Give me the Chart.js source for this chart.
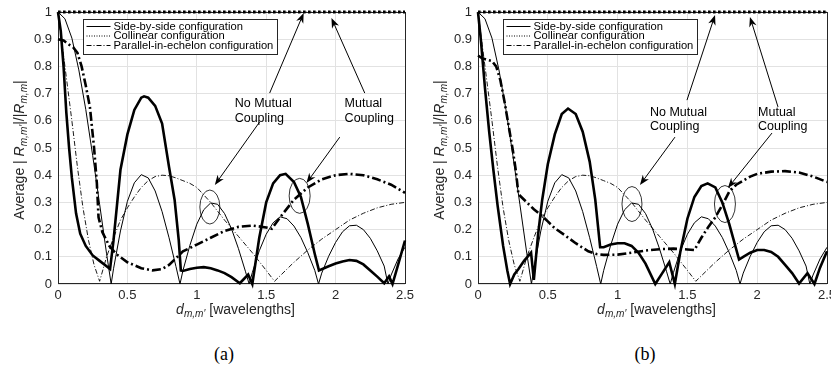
<!DOCTYPE html>
<html>
<head>
<meta charset="utf-8">
<script src="https://cdn.jsdelivr.net/npm/chart.js@4.4.1/dist/chart.umd.min.js"></script>
<style>
  body { margin: 0; background: #fff; width: 831px; height: 371px; overflow: hidden; position: relative; }
  canvas { position: absolute; top: 0; }
  #ca { left: 0; }
  #cb { left: 420px; }
  .cap { position: absolute; top: 344px; width: 60px; text-align: center; font: 18px "Liberation Serif", "Times New Roman", serif; }
</style>
</head>
<body>
<canvas id="ca" width="415" height="330"></canvas>
<canvas id="cb" width="411" height="330"></canvas>
<div class="cap" style="left:194px">(a)</div>
<div class="cap" style="left:615px">(b)</div>
<script>
const FONT = '"Liberation Sans", Arial, sans-serif';

const seriesNames = ['Side-by-side configuration', 'Collinear configuration', 'Parallel-in-echelon configuration'];
const xTicks = [0, 0.5, 1, 1.5, 2, 2.5];
const yTicks = [0, 0.1, 0.2, 0.3, 0.4, 0.5, 0.6, 0.7, 0.8, 0.9, 1];

// side-by-side, no mutual coupling (same in both panels)
const sideX = [0, 0.05, 0.1, 0.15, 0.2, 0.25, 0.3, 0.35, 0.383, 0.4, 0.45, 0.5, 0.55, 0.6, 0.65, 0.7, 0.75, 0.8, 0.85, 0.879,
  0.9, 0.95, 1.0, 1.05, 1.1, 1.15, 1.2, 1.25, 1.3, 1.35, 1.377, 1.4, 1.45, 1.5, 1.55, 1.6, 1.65, 1.7, 1.75, 1.8, 1.85, 1.877,
  1.9, 1.95, 2.0, 2.05, 2.1, 2.15, 2.2, 2.25, 2.3, 2.35, 2.377, 2.4, 2.45, 2.5];
const sideY = [1, 0.975, 0.904, 0.787, 0.642, 0.472, 0.293, 0.111, 0, 0.056, 0.195, 0.304, 0.372, 0.402, 0.390, 0.342, 0.266, 0.170, 0.064, 0,
  0.049, 0.142, 0.220, 0.273, 0.298, 0.293, 0.259, 0.203, 0.130, 0.047, 0, 0.042, 0.122, 0.183, 0.225, 0.247, 0.240, 0.213, 0.171, 0.115, 0.050, 0,
  0.040, 0.102, 0.153, 0.192, 0.214, 0.216, 0.200, 0.168, 0.122, 0.066, 0, 0.033, 0.092, 0.135];

// parallel-in-echelon, no mutual coupling (same in both panels)
const echX = [0, 0.03, 0.06, 0.1, 0.14, 0.18, 0.22, 0.26, 0.3, 0.35, 0.4, 0.45, 0.5, 0.55, 0.6, 0.65, 0.7, 0.75, 0.8, 0.85,
  0.9, 0.95, 1.0, 1.1, 1.2, 1.3, 1.4, 1.5, 1.56, 1.6, 1.7, 1.8, 1.9, 2.0, 2.1, 2.2, 2.3, 2.4, 2.5];
const echY = [1, 0.88, 0.76, 0.6, 0.43, 0.28, 0.16, 0.07, 0.01, 0.10, 0.17, 0.235, 0.28, 0.32, 0.355, 0.38, 0.395, 0.40, 0.398, 0.39,
  0.38, 0.37, 0.355, 0.30, 0.235, 0.175, 0.115, 0.05, 0.01, 0.03, 0.08, 0.125, 0.165, 0.20, 0.235, 0.26, 0.28, 0.293, 0.30];

// collinear, with and without coupling
const collX = [0, 2.5];
const collY = [1, 1];

// panel (a), with mutual coupling
const sideMcAX = [0, 0.02, 0.04, 0.06, 0.08, 0.1, 0.13, 0.16, 0.2, 0.25, 0.3, 0.35, 0.375, 0.4, 0.425, 0.45, 0.5, 0.55, 0.6, 0.62,
  0.65, 0.7, 0.75, 0.8, 0.84, 0.87, 0.885, 0.9, 0.95, 1.0, 1.05, 1.1, 1.15, 1.2, 1.25, 1.31, 1.37, 1.4, 1.45, 1.5,
  1.55, 1.6, 1.64, 1.7, 1.75, 1.8, 1.85, 1.88, 1.95, 2.0, 2.05, 2.1, 2.15, 2.2, 2.25, 2.3, 2.35, 2.385, 2.41, 2.45, 2.5];
const sideMcAY = [1, 0.93, 0.80, 0.63, 0.50, 0.39, 0.26, 0.185, 0.14, 0.105, 0.085, 0.065, 0.055, 0.16, 0.29, 0.42, 0.55, 0.64, 0.685, 0.69,
  0.685, 0.655, 0.59, 0.43, 0.31, 0.16, 0.05, 0.048, 0.055, 0.06, 0.062, 0.058, 0.05, 0.04, 0.025, 0.003, 0.035, 0.0, 0.17, 0.30,
  0.37, 0.40, 0.405, 0.375, 0.32, 0.22, 0.11, 0.05, 0.065, 0.075, 0.083, 0.088, 0.085, 0.072, 0.05, 0.027, 0.003, 0.028, 0.0, 0.07, 0.16];
const echMcAX = [0, 0.04, 0.08, 0.11, 0.14, 0.17, 0.2, 0.23, 0.26, 0.28, 0.292, 0.32, 0.37, 0.42, 0.5, 0.6, 0.68, 0.75, 0.8, 0.85,
  0.9, 1.0, 1.1, 1.2, 1.3, 1.4, 1.5, 1.54, 1.6, 1.7, 1.8, 1.9, 2.0, 2.1, 2.2, 2.3, 2.4, 2.5];
const echMcAY = [0.90, 0.895, 0.88, 0.87, 0.85, 0.80, 0.73, 0.65, 0.50, 0.37, 0.245, 0.19, 0.14, 0.11, 0.08, 0.058, 0.05, 0.055, 0.07, 0.095,
  0.12, 0.145, 0.17, 0.195, 0.21, 0.215, 0.208, 0.203, 0.245, 0.31, 0.355, 0.385, 0.40, 0.405, 0.40, 0.385, 0.365, 0.335];

// panel (b), with mutual coupling
const sideMcBX = [0, 0.02, 0.05, 0.08, 0.11, 0.14, 0.18, 0.21, 0.23, 0.26, 0.29, 0.33, 0.38, 0.40, 0.43, 0.46, 0.5, 0.55, 0.6, 0.645,
  0.7, 0.75, 0.8, 0.84, 0.86, 0.875, 0.9, 0.95, 1.0, 1.05, 1.1, 1.15, 1.2, 1.27, 1.32, 1.37, 1.41, 1.45, 1.5, 1.55,
  1.6, 1.645, 1.7, 1.75, 1.8, 1.87, 1.9, 1.95, 2.0, 2.05, 2.1, 2.15, 2.2, 2.25, 2.3, 2.36, 2.41, 2.45, 2.5];
const sideMcBY = [1, 0.9, 0.72, 0.56, 0.42, 0.29, 0.14, 0.05, 0.0, 0.035, 0.055, 0.085, 0.115, 0.015, 0.18, 0.31, 0.44, 0.55, 0.625, 0.645,
  0.625, 0.56, 0.45, 0.31, 0.21, 0.135, 0.135, 0.145, 0.15, 0.15, 0.14, 0.115, 0.075, 0.0, 0.04, 0.08, 0.0, 0.12, 0.24, 0.32,
  0.36, 0.37, 0.355, 0.30, 0.22, 0.09, 0.10, 0.115, 0.125, 0.125, 0.118, 0.10, 0.07, 0.04, 0.002, 0.04, 0.0, 0.06, 0.12];
const echMcBX = [0, 0.03, 0.06, 0.1, 0.13, 0.16, 0.19, 0.22, 0.25, 0.27, 0.29, 0.35, 0.4, 0.46, 0.5, 0.55, 0.62, 0.7, 0.79, 0.85,
  0.9, 1.0, 1.1, 1.2, 1.3, 1.4, 1.5, 1.55, 1.6, 1.65, 1.7, 1.75, 1.8, 1.85, 1.9, 1.95, 2.0, 2.1, 2.2, 2.3, 2.4, 2.5];
const echMcBY = [0.84, 0.83, 0.825, 0.82, 0.80, 0.75, 0.67, 0.58, 0.49, 0.42, 0.33, 0.30, 0.275, 0.25, 0.23, 0.205, 0.18, 0.15, 0.12, 0.11,
  0.107, 0.108, 0.115, 0.123, 0.128, 0.13, 0.127, 0.125, 0.17, 0.21, 0.245, 0.29, 0.34, 0.365, 0.38, 0.395, 0.405, 0.413, 0.415, 0.41, 0.395, 0.375];

// annotations, in data units
const notesA = {
  labels: [[1.273, 0.662, 'No Mutual'], [1.273, 0.61, 'Coupling'], [2.065, 0.662, 'Mutual'], [2.065, 0.61, 'Coupling']],
  arrows: [[1.525, 0.702, 1.77, 0.996], [1.453, 0.596, 1.13, 0.364], [2.21, 0.702, 1.97, 0.978], [2.03, 0.54, 1.79, 0.371]],
  rings: [[1.094, 0.283, 10, 17], [1.741, 0.324, 10.5, 17.5]]
};
const notesB = {
  labels: [[1.232, 0.629, 'No Mutual'], [1.232, 0.58, 'Coupling'], [2.006, 0.629, 'Mutual'], [2.006, 0.58, 'Coupling']],
  arrows: [[1.497, 0.676, 1.698, 0.989], [1.411, 0.54, 1.16, 0.364], [2.149, 0.651, 1.948, 0.982], [2.106, 0.555, 1.79, 0.353]],
  rings: [[1.103, 0.294, 10, 17.5], [1.769, 0.294, 10.5, 18.5]]
};

const pts = (xs, ys) => xs.map((x, i) => ({ x: x, y: ys[i] }));

const DOT = [1, 1.5], DASHDOT = [5, 2, 1, 2];

function line(data, width, dash) {
  return { data: data, borderColor: '#000', borderWidth: width, borderDash: dash, pointRadius: 0, tension: 0, fill: false, clip: 6 };
}

function makeDatasets(mcSideX, mcSideY, mcEchX, mcEchY) {
  return [
    line(pts(sideX, sideY), 1, []),
    line(pts(mcSideX, mcSideY), 2.6, []),
    line(pts(collX, collY), 1, DOT),
    line(pts(collX, collY), 2.8, [2.6, 2.4]),
    line(pts(echX, echY), 0.9, DASHDOT),
    line(pts(mcEchX, mcEchY), 2.6, [9, 3, 2, 3])
  ];
}

function richText(ctx, parts, x, y, size) {
  const fontOf = p => (p[1] === 'n' ? '' : 'italic ') + (p[1] === 's' ? size * 0.72 : size) + 'px ' + FONT;
  const widths = parts.map(p => { ctx.font = fontOf(p); return ctx.measureText(p[0]).width; });
  let cx = x - widths.reduce((a, b) => a + b, 0) / 2;
  parts.forEach((p, i) => {
    ctx.font = fontOf(p);
    ctx.fillText(p[0], cx, y + (p[1] === 's' ? size * 0.32 : 0));
    cx += widths[i];
  });
}

function arrow(ctx, x0, y0, x1, y1) {
  const a = Math.atan2(y1 - y0, x1 - x0);
  const L = 10, W = 3.8;
  ctx.beginPath();
  ctx.moveTo(x0, y0);
  ctx.lineTo(x1 - Math.cos(a) * 6, y1 - Math.sin(a) * 6);
  ctx.stroke();
  ctx.beginPath();
  ctx.moveTo(x1, y1);
  ctx.lineTo(x1 - L * Math.cos(a) + W * Math.sin(a), y1 - L * Math.sin(a) - W * Math.cos(a));
  ctx.lineTo(x1 - 7 * Math.cos(a), y1 - 7 * Math.sin(a));
  ctx.lineTo(x1 - L * Math.cos(a) - W * Math.sin(a), y1 - L * Math.sin(a) + W * Math.cos(a));
  ctx.closePath();
  ctx.fill();
}

const decor = {
  id: 'decor',
  beforeDatasetsDraw(chart) {
    // axes box, under the curves
    const ctx = chart.ctx, a = chart.chartArea;
    ctx.save();
    ctx.strokeStyle = '#262626';
    ctx.lineWidth = 1;
    ctx.strokeRect(Math.round(a.left) + 0.5, Math.round(a.top) + 0.5, Math.round(a.right - a.left), Math.round(a.bottom - a.top) - 1);
    ctx.restore();
  },
  afterDatasetsDraw(chart, args, opts) {
    const ctx = chart.ctx, a = chart.chartArea;
    const sx = chart.scales.x, sy = chart.scales.y;
    const notes = opts.notes;
    ctx.save();
    ctx.strokeStyle = '#000';
    ctx.fillStyle = '#000';
    ctx.lineWidth = 0.8;
    notes.rings.forEach(r => {
      ctx.beginPath();
      ctx.ellipse(sx.getPixelForValue(r[0]), sy.getPixelForValue(r[1]), r[2], r[3], 0, 0, Math.PI * 2);
      ctx.stroke();
    });
    ctx.lineWidth = 1;
    notes.arrows.forEach(r => arrow(ctx, sx.getPixelForValue(r[0]), sy.getPixelForValue(r[1]),
      sx.getPixelForValue(r[2]), sy.getPixelForValue(r[3])));
    ctx.font = '12.5px ' + FONT;
    ctx.textAlign = 'left';
    ctx.textBaseline = 'middle';
    notes.labels.forEach(l => ctx.fillText(l[2], sx.getPixelForValue(l[0]), sy.getPixelForValue(l[1])));

    // legend
    const lx = Math.round(a.left) + 25.5, ly = Math.round(a.top) + 7.5, lw = 194, lh = 35;
    ctx.fillStyle = '#fff';
    ctx.strokeStyle = '#262626';
    ctx.fillRect(lx, ly, lw, lh);
    ctx.strokeRect(lx, ly, lw, lh);
    const dashes = [[], DOT, DASHDOT];
    ctx.font = '11.2px ' + FONT;
    seriesNames.forEach((name, i) => {
      const yy = ly + 7 + i * 9.5;
      ctx.strokeStyle = '#000';
      ctx.lineWidth = 1;
      ctx.setLineDash(dashes[i]);
      ctx.beginPath();
      ctx.moveTo(lx + 3, yy);
      ctx.lineTo(lx + 27, yy);
      ctx.stroke();
      ctx.setLineDash([]);
      ctx.fillStyle = '#000';
      ctx.fillText(name, lx + 30, yy);
    });

    // axis titles
    ctx.fillStyle = '#262626';
    ctx.textAlign = 'left';
    ctx.textBaseline = 'middle';
    richText(ctx, [['d', 'i'], ['m,m\u2032', 's'], [' [wavelengths]', 'n']], (a.left + a.right) / 2 + 4, 310, 14);
    ctx.save();
    ctx.translate(20, (a.top + a.bottom) / 2 + 2);
    ctx.rotate(-Math.PI / 2);
    richText(ctx, [['Average | ', 'n'], ['R', 'i'], ['m,m\u2032', 's'], ['|/|', 'n'], ['R', 'i'], ['m,m', 's'], ['|', 'n']], 0, 0, 14);
    ctx.restore();
    ctx.restore();
  }
};

function makeChart(id, datasets, notes, rightPad) {
  return new Chart(document.getElementById(id), {
    type: 'line',
    data: { datasets: datasets },
    plugins: [decor],
    options: {
      responsive: false,
      animation: false,
      events: [],
      layout: { padding: { top: 12, right: rightPad, left: 0, bottom: 0 } },
      plugins: { legend: { display: false }, tooltip: { enabled: false }, decor: { notes: notes } },
      scales: {
        x: {
          type: 'linear', min: 0, max: 2.5,
          afterBuildTicks: s => { s.ticks = xTicks.map(v => ({ value: v })); },
          afterFit: s => { s.height = 46; s.paddingLeft = 0; s.paddingRight = 0; },
          ticks: { color: '#262626', font: { family: FONT, size: 13 }, padding: 4, maxRotation: 0, autoSkip: false, callback: v => String(v) },
          grid: { color: '#e2e2e2', drawTicks: false },
          border: { display: false }
        },
        y: {
          type: 'linear', min: 0, max: 1,
          afterBuildTicks: s => { s.ticks = yTicks.map(v => ({ value: v })); },
          afterFit: s => { s.width = 58; s.paddingTop = 0; s.paddingBottom = 0; },
          ticks: { color: '#262626', font: { family: FONT, size: 13 }, padding: 6, autoSkip: false, callback: v => String(v) },
          grid: { color: '#e2e2e2', drawTicks: false },
          border: { display: false }
        }
      }
    }
  });
}

makeChart('ca', makeDatasets(sideMcAX, sideMcAY, echMcAX, echMcAY), notesA, 10);
makeChart('cb', makeDatasets(sideMcBX, sideMcBY, echMcBX, echMcBY), notesB, 4);
</script>
</body>
</html>
